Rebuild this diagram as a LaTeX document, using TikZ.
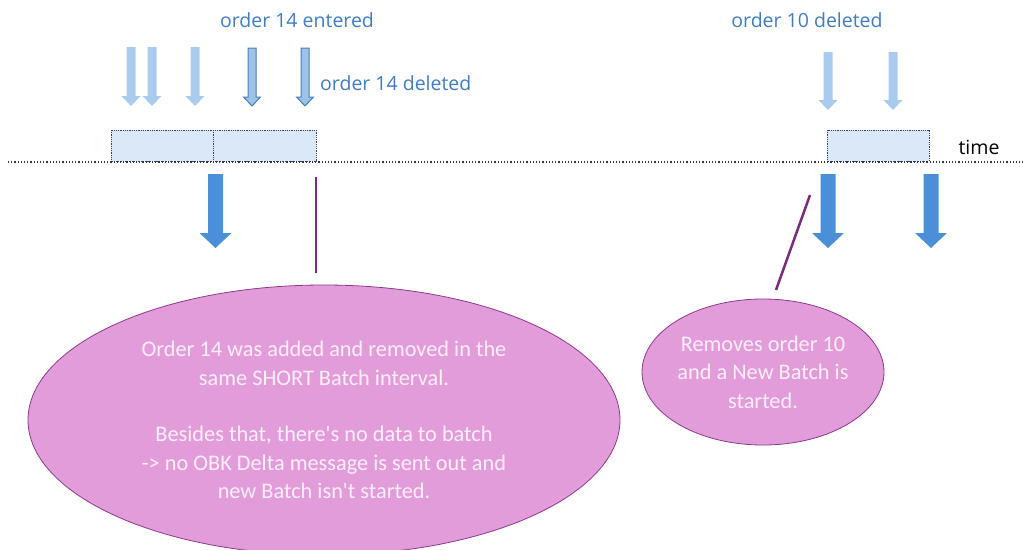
\documentclass[tikz,border=0pt]{standalone}
\usepackage{fontspec}
\setmainfont{Open Sans}
\newfontfamily\ellfont{Carlito}
\usetikzlibrary{shapes.geometric}
\definecolor{lblblue}{HTML}{3F7CC4}
\definecolor{lightarr}{HTML}{A9CCEE}
\definecolor{midarr}{HTML}{9DC3E6}
\definecolor{midedge}{HTML}{4A7EBB}
\definecolor{darkarr}{HTML}{4A90D9}
\definecolor{boxfill}{HTML}{DAE8F7}
\definecolor{boxedge}{HTML}{2F3F6F}
\definecolor{calloutline}{HTML}{7A2C7C}
\definecolor{ellfill}{HTML}{E29CDA}
\definecolor{elledge}{HTML}{8E3A8C}
\definecolor{elltext}{HTML}{FCEEFA}
\newcommand\blockarrow[7]{%
  \path[#1] ({#2-#5/2},#3) -- ({#2+#5/2},#3) -- ({#2+#5/2},{#4-#7}) -- ({#2+#6/2},{#4-#7})
   -- (#2,#4) -- ({#2-#6/2},{#4-#7}) -- ({#2-#5/2},{#4-#7}) -- cycle;}
\tikzset{
  lightarrow/.style={fill=lightarr},
  midarrow/.style={fill=midarr, draw=midedge, line width=1pt},
  darkarrow/.style={fill=darkarr},
  batchbox/.style={fill=boxfill, draw=boxedge, densely dotted, line width=0.8pt},
  toplabel/.style={text=lblblue, font=\fontsize{19.5}{23}\selectfont, inner sep=0pt},
  callout/.style={draw=calloutline, line width=2.5pt},
  bubble/.style={ellipse, fill=ellfill, draw=elledge, line width=0.8pt, inner sep=0pt,
     text=elltext, align=center, font=\ellfont\fontsize{22.3}{28.4}\selectfont},
}
\begin{document}
\begin{tikzpicture}[x=1pt,y=-1pt]
\useasboundingbox (0,0) rectangle (1023,549);
% labels
\node[toplabel] (l14e) at (297,20) {order 14 entered};
\node[toplabel, anchor=west] (l14d) at (320,83) {order 14 deleted};
\node[toplabel] (l10d) at (807,20) {order 10 deleted};
\node[inner sep=0pt, font=\fontsize{19.5}{23}\selectfont] (time) at (979,147) {time};
% top arrows
\blockarrow{lightarrow}{131}{47}{106}{9}{19}{10}
\blockarrow{lightarrow}{152}{47}{106}{9}{19}{10}
\blockarrow{lightarrow}{195}{47}{106}{9}{19}{10}
\blockarrow{midarrow}{252}{48}{106}{8}{17}{9}
\blockarrow{midarrow}{305}{48}{106}{8}{17}{9}
\blockarrow{lightarrow}{828}{52}{110}{9}{19}{10}
\blockarrow{lightarrow}{893}{52}{110}{9}{19}{10}
% batch boxes
\path[batchbox] (111,130) rectangle (316,161);
\draw[boxedge, densely dotted, line width=0.8pt] (213,130) -- (213,161);
\path[batchbox] (827,130) rectangle (929,161);
% timeline
\draw[black!80, dotted, line width=1.2pt] (8,162) -- (1023,162);
% bottom arrows
\blockarrow{darkarrow}{215.5}{174}{248}{15}{32}{15}
\blockarrow{darkarrow}{828}{174}{248}{15}{32}{15}
\blockarrow{darkarrow}{931}{174}{248}{15}{32}{15}
% bubbles
\node[bubble, minimum width=592pt, minimum height=270pt] (bigb) at (324,420)
  {Order 14 was added and removed in the\\same SHORT Batch interval.\\[28.4pt]Besides that, there's no data to batch\\-> no OBK Delta message is sent out and\\new Batch isn't started.};
\node[bubble, minimum width=242pt, minimum height=146pt] (smallb) at (763,372)
  {Removes order 10\\and a New Batch is\\started.};
% callout lines
\coordinate (c1a) at (316,177);
\coordinate (c1b) at (316,273);
\coordinate (c2a) at (810,195);
\coordinate (c2b) at (776,290);
\draw[callout] (c1a) -- (c1b);
\draw[callout] (c2a) -- (c2b);
\end{tikzpicture}
\end{document}
